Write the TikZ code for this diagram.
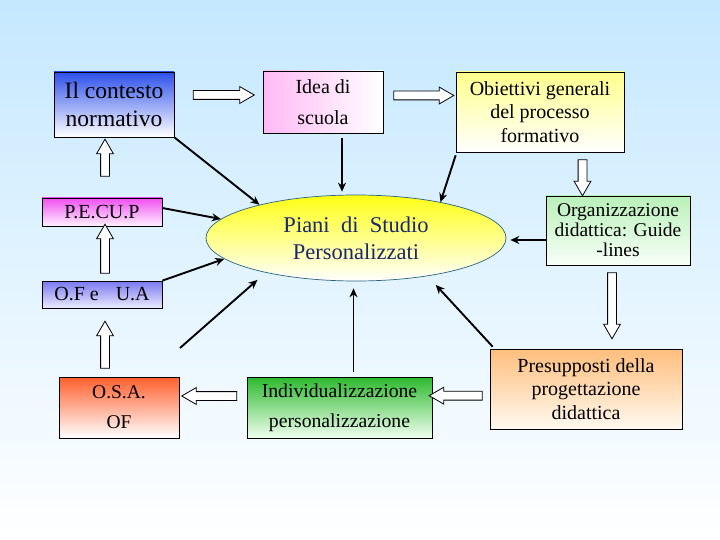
\documentclass[tikz,border=0pt]{standalone}
\usepackage{fontspec}
\setmainfont{Liberation Serif}
\usetikzlibrary{shapes.geometric,shapes.arrows,arrows.meta,calc}
\definecolor{bgtop}{RGB}{197,232,255}
\definecolor{ctxtop}{RGB}{45,80,235}
\definecolor{ideapink}{RGB}{255,185,245}
\definecolor{objtop}{RGB}{255,255,140}
\definecolor{pectop}{RGB}{240,80,240}
\definecolor{pecbot}{RGB}{255,240,255}
\definecolor{oftop}{RGB}{120,120,240}
\definecolor{ofbot}{RGB}{235,235,255}
\definecolor{osatop}{RGB}{255,95,45}
\definecolor{indtop}{RGB}{45,185,45}
\definecolor{indbot}{RGB}{240,255,240}
\definecolor{prestop}{RGB}{255,190,125}
\definecolor{presbot}{RGB}{255,250,240}
\definecolor{orgtop}{RGB}{185,240,185}
\definecolor{orgbot}{RGB}{248,255,248}
\definecolor{elltop}{RGB}{255,255,20}
\definecolor{ellmid}{RGB}{255,255,170}
\definecolor{ellborder}{RGB}{40,100,130}
\definecolor{navy}{RGB}{25,40,110}
\begin{document}
\begin{tikzpicture}[x=1pt,y=-1pt,
  box/.style={draw=black, line width=0.7pt, inner sep=0pt, align=center,
    font=\fontsize{20}{23.3}\selectfont},
  blk/.style={-{Stealth[length=9pt,width=8pt]}, line width=1.9pt},
  hollow/.style={single arrow, draw=black, fill=white, line width=0.8pt,
    inner xsep=0pt, inner ysep=4pt, text height=0pt, text depth=0pt,
    minimum width=16pt, single arrow head extend=4pt,
    single arrow tip angle=60, anchor=center}]
\shade[top color=bgtop, bottom color=white] (0,0) rectangle (720,540);
\useasboundingbox (0,0) rectangle (720,540);

% boxes
\node[box, minimum width=120pt, minimum height=65pt, top color=ctxtop, bottom color=white,
  font=\fontsize{23.5}{28.5}\selectfont] (ctx) at (114,104.5) {Il contesto\\normativo};
\node[box, minimum width=120pt, minimum height=62pt, left color=ideapink, right color=white,
  font=\fontsize{20}{31.6}\selectfont] (idea) at (323,102) {Idea di\\scuola};
\node[box, minimum width=168pt, minimum height=80pt, top color=objtop, bottom color=white]
  (obj) at (540,112) {Obiettivi generali\\del processo\\formativo};
\node[box, minimum width=120pt, minimum height=28pt, top color=pectop, bottom color=pecbot]
  (pecup) at (102,212) {P.E.CU.P};
\node[ellipse, draw=ellborder, line width=0.7pt, inner sep=0pt, minimum width=300pt,
  minimum height=86pt, top color=elltop, middle color=ellmid, bottom color=white,
  align=center, text=navy,
  font=\fontsize{22.5}{27}\selectfont] (ell) at (356,238)
  {Piani\ \ di\ \ Studio\\Personalizzati};
\node[box, minimum width=144pt, minimum height=69pt, top color=orgtop, bottom color=orgbot,
  font=\fontsize{19.5}{20}\selectfont] (org) at (618,230.5)
  {Organizzazione\\didattica: Guide\\-lines};
\node[box, minimum width=120pt, minimum height=27pt, top color=oftop, bottom color=ofbot]
  (of) at (102,294.5) {O.F e\hspace{17pt}U.A};
\node[box, minimum width=120pt, minimum height=61pt, top color=osatop, bottom color=white,
  font=\fontsize{19.5}{30}\selectfont] (osa) at (119,407.5) {O.S.A.\\OF};
\node[box, minimum width=185pt, minimum height=61pt, top color=indtop, bottom color=indbot,
  font=\fontsize{19.7}{30}\selectfont] (ind) at (339.5,407.5)
  {Individualizzazione\\personalizzazione};
\node[box, minimum width=192pt, minimum height=80pt, top color=prestop, bottom color=presbot]
  (pres) at (586,389) {Presupposti della\\progettazione\\didattica};

% hollow block arrows
\node[hollow, minimum height=61pt] (h1) at (220,95) {};
\node[hollow, minimum height=60pt] (h2) at (420,95.5) {};
\node[hollow, minimum height=37pt, rotate=90] (h3) at (105,161.5) {};
\node[hollow, minimum height=49pt, rotate=90] (h4) at (105,252.5) {};
\node[hollow, minimum height=47pt, rotate=90] (h5) at (105,348.5) {};
\node[hollow, minimum height=36pt, rotate=-90] (h6) at (582.5,174) {};
\node[hollow, minimum height=66pt, rotate=-90] (h7) at (612,302) {};
\node[hollow, minimum height=55pt, rotate=180] (h8) at (213,396) {};
\node[hollow, minimum height=53pt, rotate=180] (h9) at (459.5,395.7) {};

% black arrows to the ellipse
\draw[blk] (ctx.south east) -- (ell.161);
\coordinate (ia) at ([xshift=19pt,yshift=-5pt]idea.south);
\draw[blk, shorten >=3pt] (ia) -- (ia |- ell.north);
\draw[blk] ([yshift=-3pt]obj.south west) -- (ell.23);
\draw[blk] ([yshift=4pt]pecup.east) -- (ell.172);
\draw[blk] (of.north east) -- (ell.189);
\coordinate (fr) at (180,348);
\draw[blk, shorten >=11pt] (fr) -- (ell.201);
\coordinate (ib) at ([xshift=14pt,yshift=5pt]ind.north);
\draw[blk, shorten >=7pt] (ib) -- (ib |- ell.south);
\draw[blk, shorten >=12pt] ([xshift=3pt,yshift=2pt]pres.north west) -- (ell.-28);
\coordinate (oa) at ([yshift=-9.5pt]org.west);
\draw[blk, shorten >=4pt] (oa) -- (oa -| ell.east);
\end{tikzpicture}
\end{document}
